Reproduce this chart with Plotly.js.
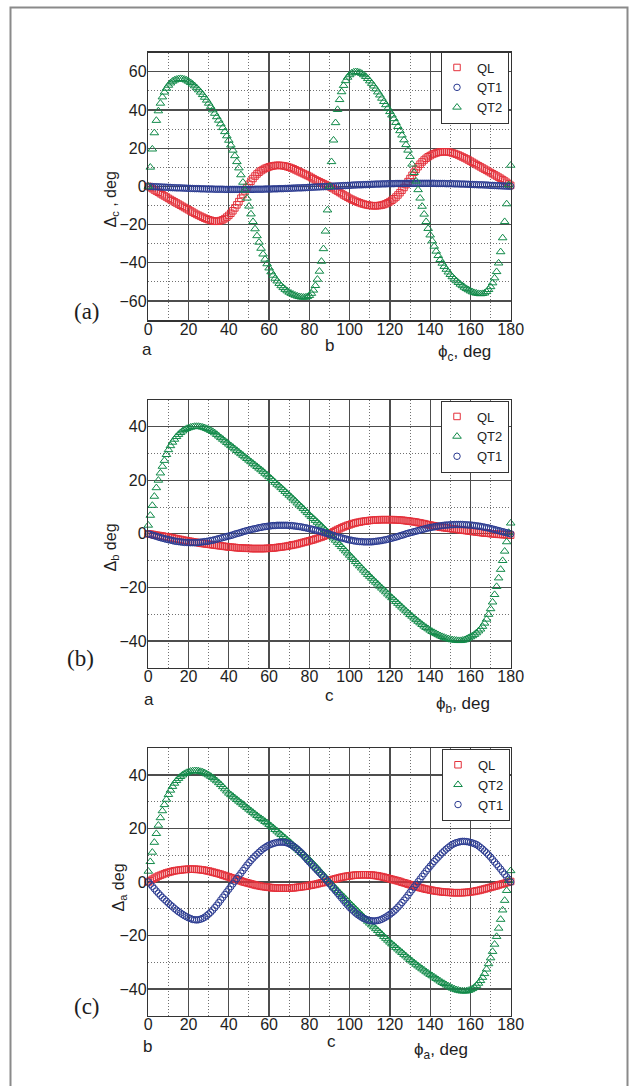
<!DOCTYPE html>
<html><head><meta charset="utf-8">
<script src="https://cdn.plot.ly/plotly-3.0.1.min.js"></script>
<style>html,body{margin:0;padding:0;background:#fff;}#chart{width:629px;height:1086px;position:absolute;left:0;top:0;}</style>
</head><body><div id="chart"></div>
<script>
// ---------- DATA ----------
const phi = [0,1,2,3,4,5,6,7,8,9,10,11,12,13,14,15,16,17,18,19,20,21,22,23,24,25,26,27,28,29,30,31,32,33,34,35,36,37,38,39,40,41,42,43,44,45,46,47,48,49,50,51,52,53,54,55,56,57,58,59,60,61,62,63,64,65,66,67,68,69,70,71,72,73,74,75,76,77,78,79,80,81,82,83,84,85,86,87,88,89,90,91,92,93,94,95,96,97,98,99,100,101,102,103,104,105,106,107,108,109,110,111,112,113,114,115,116,117,118,119,120,121,122,123,124,125,126,127,128,129,130,131,132,133,134,135,136,137,138,139,140,141,142,143,144,145,146,147,148,149,150,151,152,153,154,155,156,157,158,159,160,161,162,163,164,165,166,167,168,169,170,171,172,173,174,175,176,177,178,179,180];

// panel (a): Delta_c vs phi_c
const aQL = [0,-0.6,-1.2,-1.9,-2.5,-3.1,-3.8,-4.4,-5,-5.6,
-6.3,-6.9,-7.5,-8.1,-8.7,-9.3,-9.9,-10.5,-11.1,-11.7,
-12.3,-12.9,-13.5,-14.1,-14.7,-15.2,-15.7,-16.2,-16.7,-17.1,
-17.5,-17.8,-18.1,-18.3,-18.3,-18.2,-17.9,-17.5,-16.9,-16.1,
-15.2,-14.1,-12.8,-11.3,-9.7,-8,-6.2,-4.3,-2.4,-0.6,
1.1,2.7,4.1,5.4,6.5,7.4,8.2,8.8,9.4,9.8,
10.2,10.5,10.7,10.9,11,11,10.9,10.8,10.6,10.3,
10,9.6,9.2,8.7,8.2,7.7,7.2,6.7,6.2,5.7,
5.2,4.6,4,3.4,2.9,2.4,1.9,1.4,0.9,0.4,
-0.1,-0.6,-1.2,-1.9,-2.5,-3.2,-3.8,-4.5,-5.1,-5.7,
-6.3,-6.8,-7.3,-7.8,-8.2,-8.6,-9,-9.3,-9.6,-9.8,
-10,-10.1,-10.2,-10.2,-10.1,-10,-9.8,-9.5,-9.1,-8.6,
-8,-7.3,-6.5,-5.6,-4.5,-3.3,-2,-0.6,0.9,2.5,
4.1,5.8,7.4,8.9,10.3,11.6,12.8,13.8,14.7,15.5,
16.1,16.7,17.1,17.5,17.8,18,18.1,18.1,18.1,18,
17.8,17.5,17.2,16.8,16.4,15.9,15.4,14.9,14.4,13.8,
13.2,12.6,12,11.4,10.8,10.2,9.6,9,8.4,7.8,
7.2,6.6,6,5.4,4.8,4.2,3.5,2.8,2.1,1.3,
0.5];
const aQT1 = [0,-0.1,-0.1,-0.2,-0.2,-0.3,-0.3,-0.4,-0.4,-0.5,
-0.5,-0.6,-0.7,-0.7,-0.8,-0.8,-0.8,-0.9,-0.9,-1,
-1,-1.1,-1.1,-1.2,-1.2,-1.2,-1.3,-1.3,-1.3,-1.4,
-1.4,-1.4,-1.4,-1.5,-1.5,-1.5,-1.5,-1.5,-1.6,-1.6,
-1.6,-1.6,-1.6,-1.6,-1.6,-1.6,-1.6,-1.6,-1.6,-1.6,
-1.6,-1.6,-1.6,-1.5,-1.5,-1.5,-1.5,-1.5,-1.4,-1.4,
-1.4,-1.4,-1.3,-1.3,-1.3,-1.2,-1.2,-1.2,-1.1,-1.1,
-1,-1,-0.9,-0.9,-0.8,-0.8,-0.8,-0.7,-0.7,-0.6,
-0.5,-0.5,-0.4,-0.4,-0.3,-0.3,-0.2,-0.2,-0.1,-0.1,
0,0.1,0.1,0.2,0.2,0.3,0.3,0.4,0.4,0.5,
0.5,0.6,0.7,0.7,0.8,0.8,0.8,0.9,0.9,1,
1,1.1,1.1,1.2,1.2,1.2,1.3,1.3,1.3,1.4,
1.4,1.4,1.4,1.5,1.5,1.5,1.5,1.5,1.6,1.6,
1.6,1.6,1.6,1.6,1.6,1.6,1.6,1.6,1.6,1.6,
1.6,1.6,1.6,1.5,1.5,1.5,1.5,1.5,1.4,1.4,
1.4,1.4,1.3,1.3,1.3,1.2,1.2,1.2,1.1,1.1,
1,1,0.9,0.9,0.8,0.8,0.8,0.7,0.7,0.6,
0.5,0.5,0.4,0.4,0.3,0.3,0.2,0.2,0.1,0.1,
0];
const aQT2 = [0,10,19.5,28,34.5,39.5,43.5,46.8,49.3,51.3,
52.9,54.1,55,55.6,56,56.3,56.4,56.3,56,55.6,
55,54.3,53.5,52.6,51.6,50.5,49.3,48,46.6,45.1,
43.5,41.8,40,38.2,36.4,34.6,32.7,30.7,28.6,26.4,
24.1,21.6,18.9,16,12.9,9.6,6,2.1,-2,-6.2,
-10.4,-14.5,-18.5,-22.3,-25.9,-29.3,-32.5,-35.5,-38.2,-40.6,
-42.8,-44.8,-46.6,-48.2,-49.6,-50.9,-52.1,-53.1,-54,-54.8,
-55.5,-56.1,-56.6,-57.1,-57.5,-57.8,-58,-58.1,-58.1,-57.8,
-57.2,-56.1,-54.4,-52,-48.7,-44.5,-39.3,-32.7,-23.5,-12.4,
0,12.9,24.2,33.3,40.2,45.4,49.5,52.8,55.3,57.1,
58.4,59.3,59.8,60,59.9,59.6,59.1,58.4,57.5,56.4,
55.2,53.9,52.5,51,49.4,47.8,46.1,44.4,42.7,40.9,
39.1,37.3,35.4,33.4,31.3,29.1,26.8,24.3,21.8,18.9,
15.6,11.6,7.2,2.7,-1.8,-6.2,-10.5,-14.6,-18.5,-22.1,
-25.5,-28.6,-31.4,-34,-36.3,-38.4,-40.3,-42,-43.5,-44.9,
-46.2,-47.4,-48.5,-49.5,-50.4,-51.3,-52.1,-52.9,-53.6,-54.2,
-54.8,-55.3,-55.7,-56,-56.2,-56.3,-56.2,-55.9,-55.2,-54.1,
-52.6,-50.6,-48,-44.7,-40.2,-34.3,-27,-18.5,-9.2,0.7,
11];

// panel (b): Delta_b vs phi_b
const bQL = [0,-0.1,-0.2,-0.4,-0.5,-0.6,-0.7,-0.8,-1,-1.1,
-1.2,-1.4,-1.5,-1.7,-1.8,-2,-2.1,-2.3,-2.4,-2.6,
-2.7,-2.8,-3,-3.1,-3.2,-3.3,-3.5,-3.6,-3.7,-3.8,
-3.9,-4,-4.1,-4.2,-4.3,-4.4,-4.5,-4.6,-4.7,-4.8,
-4.9,-5,-5,-5.1,-5.2,-5.2,-5.3,-5.3,-5.4,-5.4,
-5.4,-5.5,-5.5,-5.5,-5.5,-5.5,-5.5,-5.5,-5.5,-5.4,
-5.4,-5.3,-5.3,-5.2,-5.1,-5,-4.9,-4.8,-4.7,-4.6,
-4.4,-4.3,-4.1,-4,-3.8,-3.6,-3.4,-3.2,-3,-2.8,
-2.6,-2.4,-2.2,-1.9,-1.7,-1.4,-1.2,-0.9,-0.6,-0.3,
0,0.4,0.8,1.2,1.6,1.9,2.3,2.6,2.9,3.2,
3.4,3.7,3.9,4.1,4.3,4.4,4.6,4.7,4.8,4.9,
5,5.1,5.1,5.2,5.2,5.3,5.3,5.3,5.3,5.3,
5.3,5.3,5.3,5.2,5.2,5.1,5.1,5,4.9,4.8,
4.7,4.6,4.5,4.4,4.2,4.1,3.9,3.8,3.6,3.4,
3.3,3.1,3,2.8,2.7,2.5,2.4,2.3,2.2,2.1,
2,1.9,1.8,1.7,1.6,1.5,1.4,1.3,1.2,1.1,
1,0.9,0.8,0.7,0.6,0.5,0.4,0.3,0.3,0.2,
0.1,0,0,-0.1,-0.2,-0.2,-0.3,-0.3,-0.4,-0.5,
-0.5];
const bQT2 = [3.2,6.9,10.6,14,17.2,20,22.7,25.2,27.4,29.6,
31.4,32.9,34.2,35.3,36.3,37.1,37.8,38.4,38.9,39.3,
39.6,39.8,40,40.1,40.1,40.1,40,39.8,39.6,39.3,
39,38.6,38.2,37.7,37.1,36.5,35.9,35.3,34.7,34.1,
33.5,32.9,32.3,31.7,31.1,30.5,29.9,29.3,28.7,28.1,
27.5,26.9,26.3,25.7,25.1,24.5,23.9,23.3,22.6,22,
21.3,20.6,19.9,19.2,18.5,17.9,17.2,16.5,15.8,15.1,
14.4,13.7,13,12.3,11.5,10.8,10.1,9.4,8.6,7.9,
7.1,6.4,5.7,5,4.3,3.6,2.9,2.1,1.4,0.7,
0,-0.8,-1.6,-2.4,-3.2,-4,-4.8,-5.6,-6.4,-7.2,
-8,-8.8,-9.6,-10.4,-11.2,-12,-12.8,-13.6,-14.4,-15.2,
-15.9,-16.6,-17.4,-18.1,-18.8,-19.6,-20.3,-21,-21.7,-22.5,
-23.2,-23.9,-24.6,-25.3,-26,-26.7,-27.4,-28.1,-28.8,-29.5,
-30.2,-30.8,-31.5,-32.1,-32.7,-33.3,-33.9,-34.5,-35,-35.5,
-36,-36.5,-36.9,-37.3,-37.7,-38.1,-38.4,-38.7,-39,-39.2,
-39.4,-39.6,-39.7,-39.8,-39.9,-39.9,-39.8,-39.6,-39.3,-38.9,
-38.5,-38.1,-37.6,-37,-36.3,-35.6,-34.6,-33.4,-31.9,-30.1,
-28,-25.5,-22.7,-19.7,-16.5,-13.3,-10,-6.5,-3,0.5,
4];
const bQT1 = [0,-0.2,-0.5,-0.7,-0.9,-1.2,-1.4,-1.6,-1.8,-2,
-2.2,-2.3,-2.5,-2.7,-2.8,-2.9,-3,-3.1,-3.2,-3.2,
-3.3,-3.3,-3.3,-3.3,-3.3,-3.2,-3.1,-3,-2.9,-2.8,
-2.7,-2.5,-2.4,-2.2,-2,-1.8,-1.6,-1.4,-1.2,-1,
-0.8,-0.6,-0.4,-0.1,0.1,0.3,0.5,0.8,1,1.2,
1.4,1.6,1.8,1.9,2.1,2.3,2.4,2.6,2.7,2.8,
2.9,3,3.1,3.1,3.2,3.2,3.2,3.2,3.2,3.2,
3.1,3.1,3,2.9,2.8,2.7,2.6,2.4,2.3,2.1,
1.9,1.8,1.6,1.4,1.2,1,0.8,0.5,0.3,0.1,
-0.1,-0.4,-0.6,-0.9,-1.1,-1.3,-1.5,-1.7,-1.9,-2.1,
-2.3,-2.4,-2.6,-2.7,-2.8,-2.9,-2.9,-3,-3,-3,
-3,-3,-2.9,-2.8,-2.7,-2.6,-2.5,-2.3,-2.2,-2,
-1.8,-1.6,-1.4,-1.2,-1,-0.7,-0.5,-0.3,0,0.2,
0.4,0.6,0.8,1,1.2,1.4,1.6,1.8,2,2.2,
2.3,2.5,2.6,2.8,2.9,3,3.1,3.2,3.3,3.3,
3.4,3.4,3.5,3.5,3.5,3.5,3.5,3.4,3.4,3.3,
3.3,3.2,3.1,3,2.9,2.8,2.6,2.5,2.3,2.2,
2,1.8,1.6,1.4,1.2,1,0.8,0.6,0.4,0.2,
0];

// panel (c): Delta_a vs phi_a
const cQL = [0,0.5,1,1.4,1.8,2.2,2.5,2.8,3.1,3.4,
3.6,3.8,4,4.2,4.3,4.4,4.5,4.6,4.7,4.7,
4.8,4.8,4.8,4.8,4.7,4.7,4.6,4.5,4.4,4.2,
4.1,3.9,3.7,3.5,3.3,3.1,2.9,2.6,2.4,2.1,
1.9,1.6,1.4,1.1,0.9,0.6,0.4,0.1,-0.1,-0.3,
-0.5,-0.7,-0.9,-1.1,-1.3,-1.4,-1.6,-1.7,-1.8,-1.9,
-2,-2.1,-2.2,-2.2,-2.3,-2.3,-2.3,-2.3,-2.3,-2.3,
-2.3,-2.2,-2.2,-2.1,-2,-1.9,-1.8,-1.7,-1.6,-1.5,
-1.3,-1.2,-1,-0.9,-0.7,-0.5,-0.3,-0.2,0,0.2,
0.5,0.8,1,1.2,1.4,1.6,1.8,1.9,2.1,2.2,
2.3,2.4,2.5,2.6,2.6,2.7,2.7,2.7,2.7,2.7,
2.6,2.6,2.5,2.4,2.3,2.1,2,1.8,1.6,1.4,
1.2,1,0.8,0.6,0.4,0.2,-0.1,-0.3,-0.5,-0.8,
-1,-1.2,-1.5,-1.7,-1.9,-2.1,-2.3,-2.5,-2.7,-2.8,
-3,-3.1,-3.3,-3.4,-3.5,-3.6,-3.7,-3.8,-3.8,-3.9,
-3.9,-4,-4,-4,-4,-4,-4,-3.9,-3.9,-3.8,
-3.7,-3.6,-3.5,-3.3,-3.2,-3,-2.8,-2.6,-2.4,-2.2,
-2,-1.8,-1.6,-1.4,-1.1,-0.9,-0.7,-0.5,-0.2,0,
0.2];
const cQT2 = [4,7.6,11.1,14.8,18.1,21.2,24,26.6,28.9,30.9,
32.7,34.3,35.7,36.9,37.9,38.7,39.4,40,40.5,40.9,
41.2,41.4,41.5,41.6,41.6,41.5,41.3,41.1,40.8,40.4,
40,39.5,39,38.4,37.8,37.1,36.4,35.6,34.8,34,
33.2,32.6,32,31.4,30.8,30.2,29.6,29,28.4,27.8,
27.2,26.6,26,25.4,24.8,24.2,23.7,23.2,22.6,22.1,
21.5,20.9,20.3,19.6,19,18.3,17.7,17,16.4,15.7,
15.1,14.4,13.7,13.1,12.4,11.7,11,10.4,9.7,9,
8.3,7.5,6.7,5.9,5.1,4.3,3.4,2.6,1.7,0.9,
0,-0.8,-1.6,-2.4,-3.2,-4,-4.8,-5.5,-6.3,-7.1,
-7.9,-8.7,-9.4,-10.2,-10.9,-11.7,-12.4,-13.2,-13.9,-14.7,
-15.4,-16.1,-16.8,-17.5,-18.2,-18.9,-19.6,-20.4,-21.1,-21.8,
-22.5,-23.2,-23.8,-24.5,-25.1,-25.8,-26.4,-27.1,-27.7,-28.4,
-29,-29.6,-30.2,-30.8,-31.4,-31.9,-32.5,-33,-33.6,-34.1,
-34.6,-35.1,-35.6,-36.1,-36.6,-37.1,-37.6,-38,-38.5,-38.9,
-39.3,-39.7,-40,-40.3,-40.5,-40.7,-40.8,-40.8,-40.8,-40.6,
-40.3,-39.9,-39.4,-38.7,-37.9,-36.9,-35.7,-34.3,-32.6,-30.6,
-28.4,-26,-23.3,-20.4,-17.3,-14,-10.5,-6.9,-3.2,0.5,
4.2];
const cQT1 = [0,-0.8,-1.6,-2.5,-3.4,-4.2,-5,-5.8,-6.5,-7.2,
-7.9,-8.6,-9.2,-9.9,-10.5,-11.1,-11.6,-12.1,-12.6,-13,
-13.4,-13.7,-14,-14.1,-14.2,-14.1,-13.9,-13.6,-13.2,-12.6,
-12,-11.3,-10.5,-9.6,-8.7,-7.7,-6.7,-5.7,-4.7,-3.7,
-2.7,-1.7,-0.7,0.3,1.3,2.3,3.3,4.3,5.3,6.3,
7.2,8.1,8.9,9.7,10.4,11.1,11.8,12.4,12.9,13.4,
13.8,14.1,14.4,14.6,14.8,14.9,14.9,14.9,14.8,14.6,
14.3,13.9,13.4,12.9,12.3,11.6,10.9,10.1,9.2,8.3,
7.5,6.7,5.9,5.1,4.3,3.5,2.7,1.9,1.1,0.3,
-0.6,-1.5,-2.4,-3.3,-4.2,-5.1,-6,-6.9,-7.8,-8.6,
-9.5,-10.2,-10.9,-11.6,-12.2,-12.7,-13.2,-13.6,-13.9,-14.2,
-14.4,-14.5,-14.6,-14.5,-14.4,-14.2,-13.9,-13.5,-13.1,-12.6,
-12.1,-11.5,-10.9,-10.2,-9.4,-8.6,-7.7,-6.8,-5.9,-4.9,
-3.9,-2.9,-1.9,-0.9,0.1,1.1,2.1,3.1,4.1,5,
5.9,6.8,7.7,8.5,9.3,10.1,10.9,11.6,12.3,12.9,
13.5,14,14.4,14.7,14.9,15.1,15.2,15.2,15.1,15,
14.8,14.6,14.3,14,13.5,12.9,12.3,11.6,10.9,10.1,
9.3,8.4,7.5,6.6,5.7,4.8,3.8,2.9,1.9,1,
0];

const xTicks = [0,20,40,60,80,100,120,140,160,180];
const yTicksA = [-60,-40,-20,0,20,40,60];
const yTicksBC = [-40,-20,0,20,40];

// ---------- STYLE / LAYOUT ----------
const W = 629, H = 1086;
const px = v => v / W;
const py = v => 1 - v / H;
const RED = '#e4313b', BLUE = '#2b3b91', GREEN = '#118a49';
const SANS = 'Liberation Sans, Arial, Helvetica, sans-serif';
const SERIF = 'Liberation Serif, Times New Roman, serif';

function trace(y, name, kind, xa, ya, leg) {
  const st = {
    QL: {symbol: 'square-open', color: RED, size: 6.5},
    QT1: {symbol: 'circle-open', color: BLUE, size: 6.5},
    QT2: {symbol: 'triangle-up-open', color: GREEN, size: 7.5}
  }[kind];
  return {
    x: phi, y: y, name: name, type: 'scatter', mode: 'markers',
    xaxis: xa, yaxis: ya, legend: leg, cliponaxis: false,
    marker: {symbol: st.symbol, size: st.size, color: st.color, line: {color: st.color, width: 1}}
  };
}

const data = [
  trace(aQL, 'QL', 'QL', 'x', 'y', 'legend'),
  trace(aQT1, 'QT1', 'QT1', 'x', 'y', 'legend'),
  trace(aQT2, 'QT2', 'QT2', 'x', 'y', 'legend'),
  trace(bQL, 'QL', 'QL', 'x2', 'y2', 'legend2'),
  trace(bQT2, 'QT2', 'QT2', 'x2', 'y2', 'legend2'),
  trace(bQT1, 'QT1', 'QT1', 'x2', 'y2', 'legend2'),
  trace(cQL, 'QL', 'QL', 'x3', 'y3', 'legend3'),
  trace(cQT2, 'QT2', 'QT2', 'x3', 'y3', 'legend3'),
  trace(cQT1, 'QT1', 'QT1', 'x3', 'y3', 'legend3')
];

function axis(extra) {
  return Object.assign({
    showline: true, mirror: true, linecolor: '#333333', linewidth: 1.5,
    showgrid: true, gridcolor: '#4d4d4d', gridwidth: 1.3,
    zeroline: false, ticks: '', fixedrange: true,
    tickfont: {family: SANS, size: 16, color: '#1e1e1e'},
    minor: {dtick: 10, tick0: 0, showgrid: true, gridcolor: '#707070', gridwidth: 1, griddash: '1px,2px', ticks: ''}
  }, extra);
}
const xDom = [px(148.3), px(510.7)];
const XS = -6, YS = -3;
const layout = {
  width: W, height: H, margin: {l: 0, r: 0, t: 0, b: 0},
  paper_bgcolor: '#ffffff', plot_bgcolor: '#ffffff', showlegend: true,
  xaxis: axis({domain: xDom, anchor: 'y', range: [0, 180], tickvals: xTicks, ticklabelstandoff: XS}),
  yaxis: axis({domain: [py(320), py(52.7)], anchor: 'x', range: [-70, 70], tickvals: yTicksA, ticklabelstandoff: YS}),
  xaxis2: axis({domain: xDom, anchor: 'y2', range: [0, 180], tickvals: xTicks, ticklabelstandoff: XS}),
  yaxis2: axis({domain: [py(667.7), py(400)], anchor: 'x2', range: [-50, 50], tickvals: yTicksBC, ticklabelstandoff: YS}),
  xaxis3: axis({domain: xDom, anchor: 'y3', range: [0, 180], tickvals: xTicks, ticklabelstandoff: XS}),
  yaxis3: axis({domain: [py(1015.7), py(748.3)], anchor: 'x3', range: [-50, 50], tickvals: yTicksBC, ticklabelstandoff: YS}),
  legend: legendAt(509, 51.5),
  legend2: legendAt(509, 400.5),
  legend3: legendAt(510, 748.8),
  shapes: [{type: 'rect', xref: 'paper', yref: 'paper', x0: px(10.5), x1: px(627.5), y0: -0.05, y1: py(7.5),
            line: {color: '#8a8a8a', width: 2}, fillcolor: 'rgba(0,0,0,0)', layer: 'below'}],
  annotations: [
    ann('(a)', 87, 311, SERIF, 23),
    ann('(b)', 80, 658.5, SERIF, 23),
    ann('(c)', 87, 1006, SERIF, 23),
    ann('a', 147, 349.5, SANS, 17),
    ann('b', 329, 346, SANS, 17),
    ann('ϕ<sub>c</sub>, deg', 464, 353.5, SANS, 17),
    ann('a', 149, 699.5, SANS, 17),
    ann('c', 329, 695, SANS, 17),
    ann('ϕ<sub>b</sub>, deg', 462.5, 705, SANS, 17),
    ann('b', 147.5, 1046, SANS, 17),
    ann('c', 331, 1041, SANS, 17),
    ann('ϕ<sub>a</sub>, deg', 441, 1051, SANS, 17),
    Object.assign(ann('Δ<sub>c</sub> , deg', 111, 199.5, SANS, 16), {textangle: -90}),
    Object.assign(ann('Δ<sub>b</sub> deg', 111, 547.5, SANS, 16), {textangle: -90}),
    Object.assign(ann('Δ<sub>a</sub> deg', 119, 887.5, SANS, 16), {textangle: -90})
  ]
};
function legendAt(x, y) {
  return {x: px(x), y: py(y), xref: 'paper', yref: 'paper', xanchor: 'right', yanchor: 'top',
          bgcolor: '#ffffff', bordercolor: '#333333', borderwidth: 1, indentation: -5,
          font: {family: SANS, size: 13, color: '#1e1e1e'}, tracegroupgap: 0, itemwidth: 30};
}
function ann(text, x, y, fam, size) {
  return {text: text, x: px(x), y: py(y), xref: 'paper', yref: 'paper', showarrow: false,
          xanchor: 'center', yanchor: 'middle', font: {family: fam, size: size, color: '#1e1e1e'}};
}
Plotly.newPlot('chart', data, layout, {displayModeBar: false, staticPlot: true});
</script></body></html>
